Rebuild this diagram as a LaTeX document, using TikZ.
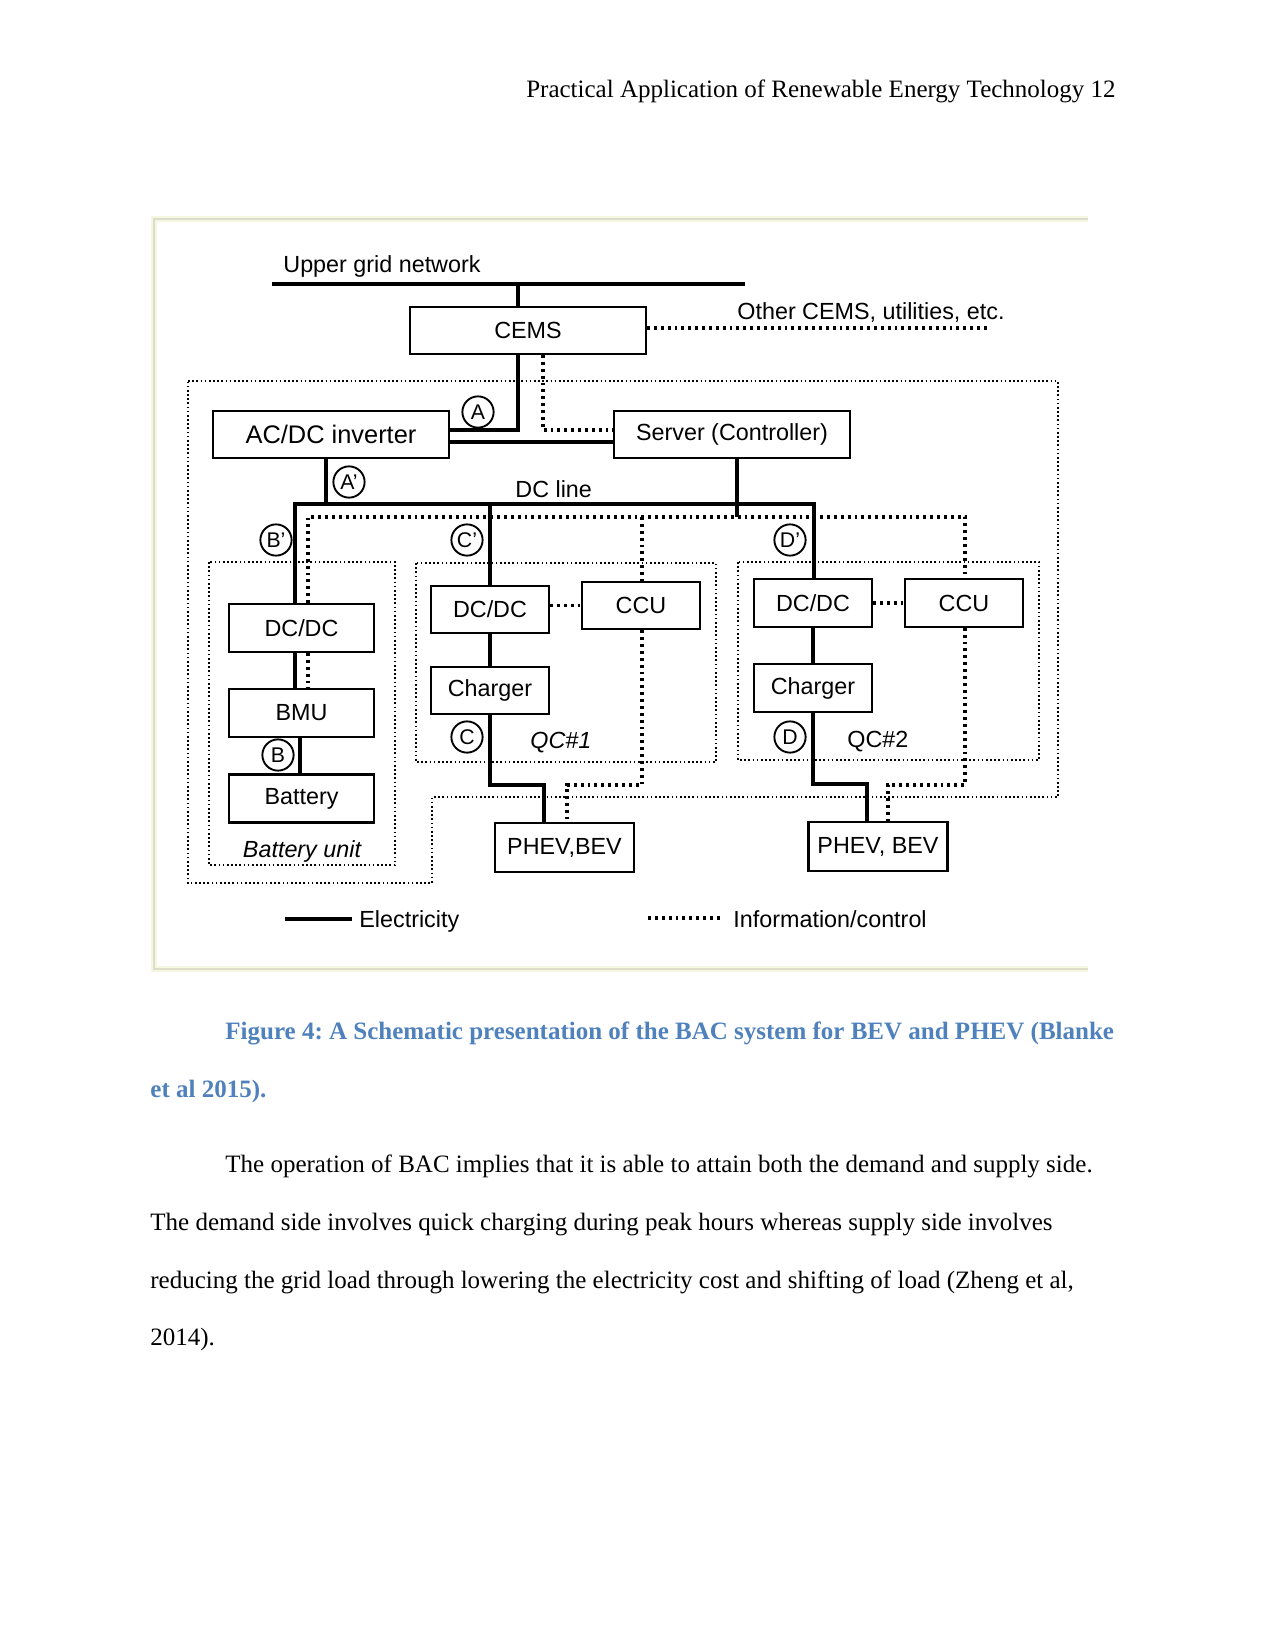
\documentclass[tikz,border=0pt]{standalone}
\usepackage{fontspec}
\setmainfont{Liberation Serif}
\newfontfamily\arial{Liberation Sans}
\definecolor{capblue}{HTML}{4F81BD}
\definecolor{frameline}{HTML}{DDDDCC}
\definecolor{frameglow}{HTML}{F5F7E0}
\frenchspacing
\begin{document}
\begin{tikzpicture}[x=0.48pt,y=-0.48pt,
  box/.style={draw, line width=1pt, inner sep=0pt, font=\arial\fontsize{11.2}{13}\selectfont},
  wide/.style={minimum width=113.28pt, minimum height=22.56pt},
  bbox/.style={minimum width=69.6pt, minimum height=23.04pt},
  qbox/.style={minimum width=56.64pt, minimum height=22.8pt},
  vbox/.style={minimum width=66.72pt, minimum height=23.52pt},
  elec/.style={line width=1.5pt},
  info/.style={line width=1.7pt, dash pattern=on 1.4pt off 1.9pt},
  area/.style={line width=0.8pt, dash pattern=on 0.8pt off 1.2pt},
  circ/.style={draw, circle, line width=0.9pt, minimum size=15pt, inner sep=0pt, font=\arial\fontsize{10.2}{11}\selectfont},
  lbl/.style={font=\arial\fontsize{11.2}{13}\selectfont, inner sep=0pt},
  body/.style={font=\fontsize{12}{14}\selectfont, inner sep=0pt, anchor=base west},
]
\useasboundingbox (0,0) rectangle (1275,1651);
\fill[white] (0,0) rectangle (1275,1651);

% page text
\node[body, anchor=base east] (header) at (1116,98) {Practical Application of Renewable Energy Technology 12};
\node[body, font=\bfseries\fontsize{12}{14}\selectfont, text=capblue] (cap1) at (225,1039) {Figure 4: A Schematic presentation of the BAC system for BEV and PHEV (Blanke};
\node[body, font=\bfseries\fontsize{12}{14}\selectfont, text=capblue] (cap2) at (150,1097) {et al 2015).};
\node[body] (p1) at (225,1172) {The operation of BAC implies that it is able to attain both the demand and supply side.};
\node[body] (p2) at (150,1230) {The demand side involves quick charging during peak hours whereas supply side involves};
\node[body] (p3) at (150,1288) {reducing the grid load through lowering the electricity cost and shifting of load (Zheng et al,};
\node[body] (p4) at (150,1345) {2014).};

% figure frame
\draw[frameglow, line width=3pt] (1088,219) -- (154,219) -- (154,969) -- (1088,969);
\draw[frameline, line width=0.8pt] (1088,219) -- (154,219) -- (154,969) -- (1088,969);

% dotted areas
\draw[area] (188,381) -- (1058,381) -- (1058,797) -- (432,797) -- (432,883) -- (188,883) -- cycle;
\draw[area] (209,562) rectangle (395,865);
\draw[area] (416,563) rectangle (716,762);
\draw[area] (738,562) rectangle (1039,760);

% boxes
\node[box, wide] (cems) at (528,330.5) {CEMS};
\node[box, wide, font=\arial\fontsize{12.2}{14}\selectfont] (acdc) at (331,434.5) {AC/DC inverter};
\node[box, wide] (server) at (732,434.5) {Server (Controller)};
\node[box, bbox] (dcdc0) at (301.5,628) {DC/DC};
\node[box, bbox] (bmu) at (301.5,713) {BMU};
\node[box, bbox] (batt) at (301.5,798.5) {Battery};
\node[box, qbox] (dcdc1) at (490,609.5) {DC/DC};
\node[box, qbox] (ccu1) at (641,605.5) {CCU};
\node[box, qbox] (chg1) at (490,690.5) {Charger};
\node[box, qbox] (dcdc2) at (813,603) {DC/DC};
\node[box, qbox] (ccu2) at (964,603) {CCU};
\node[box, qbox] (chg2) at (813,688) {Charger};
\node[box, vbox] (phev1) at (564.5,847.5) {PHEV,BEV};
\node[box, vbox] (phev2) at (878,846.5) {PHEV, BEV};

% circled labels
\node[circ] (cA) at (478,412) {A};
\node[circ] (cA2) at (349,482) {A’};
\node[circ] (cB2) at (276,540) {B’};
\node[circ] (cC2) at (467,540) {C’};
\node[circ] (cD2) at (790,540) {D’};
\node[circ] (cB) at (278,755) {B};
\node[circ] (cC) at (467,737) {C};
\node[circ] (cD) at (790,737) {D};

% labels
\node[lbl, anchor=base west] (tgrid) at (283,272) {Upper grid network};
\node[lbl, anchor=base west] (tother) at (737,319) {Other CEMS, utilities, etc.};
\node[lbl, anchor=base west] (tdc) at (515,497) {DC line};
\node[lbl, anchor=base west, font=\arial\itshape\fontsize{11.2}{13}\selectfont] (tqc1) at (530,748) {QC\#1};
\node[lbl, anchor=base west] (tqc2) at (847,747) {QC\#2};
\node[lbl, anchor=base, font=\arial\itshape\fontsize{11.2}{13}\selectfont] (tbu) at (302,857) {Battery unit};

% upper grid
\coordinate (gl) at (272,284);
\coordinate (gr) at (745,284);
\coordinate (gj) at (518,284);
\draw[elec] (gl) -- (gr);
\draw[elec] (gj) -- (gj |- cems.north);
\coordinate (oend) at (988,328);
\draw[info] (cems.east |- oend) -- (oend);

% CEMS to inverter / server
\coordinate (a1) at (518,430);
\draw[elec] (a1 |- cems.south) -- (a1) -- (a1 -| acdc.east);
\coordinate (i1) at (543,430);
\draw[info] (i1 |- cems.south) -- (i1) -- (i1 -| server.west);
\coordinate (hy) at (0,442);
\draw[elec] (acdc.east |- hy) -- (server.west |- hy);

% DC line
\coordinate (dcL) at (295,504);
\coordinate (dcR) at (814,504);
\draw[elec] (dcL |- dcdc0.north) -- (dcL) -- (dcR) -- (dcR |- dcdc2.north);
\coordinate (v1) at (326,504);
\draw[elec] (v1 |- acdc.south) -- (v1);
\coordinate (v2) at (737,517);
\draw[elec] (v2 |- server.south) -- (v2);
\coordinate (v3) at (490,504);
\draw[elec] (v3) -- (v3 |- dcdc1.north);

% info line
\coordinate (iL) at (308,517);
\coordinate (iR) at (965,517);
\draw[info] (iL |- dcdc0.north) -- (iL) -- (iR) -- (iR |- ccu2.north);
\coordinate (iC) at (642,517);
\draw[info] (iC) -- (iC |- ccu1.north);

% battery unit
\draw[elec] (dcL |- dcdc0.south) -- (dcL |- bmu.north);
\draw[info] (iL |- dcdc0.south) -- (iL |- bmu.north);
\coordinate (v4) at (300,0);
\draw[elec] (bmu.south -| v4) -- (batt.north -| v4);

% QC#1
\draw[info] (dcdc1.east |- ccu1.west) -- (ccu1.west);
\draw[elec] (dcdc1.south) -- (chg1.north);
\coordinate (p1) at (544,785);
\draw[elec] (chg1.south) |- (p1) -- (p1 |- phev1.north);
\coordinate (q1) at (567,785);
\draw[info] (ccu1.south -| iC) |- (q1) -- (q1 |- phev1.north);

% QC#2
\draw[info] (dcdc2.east) -- (ccu2.west);
\draw[elec] (dcdc2.south) -- (chg2.north);
\coordinate (p2) at (867,784);
\draw[elec] (chg2.south) |- (p2) -- (p2 |- phev2.north);
\coordinate (q2) at (888,785);
\draw[info] (ccu2.south -| iR) |- (q2) -- (q2 |- phev2.north);

% legend
\coordinate (le1) at (285,919);
\coordinate (le2) at (352,919);
\draw[elec, line width=1.7pt] (le1) -- (le2);
\node[lbl, anchor=base west] (tel) at (359,927) {Electricity};
\coordinate (li1) at (648,918);
\coordinate (li2) at (720,918);
\draw[info] (li1) -- (li2);
\node[lbl, anchor=base west] (tinf) at (733,927) {Information/control};
\end{tikzpicture}
\end{document}
